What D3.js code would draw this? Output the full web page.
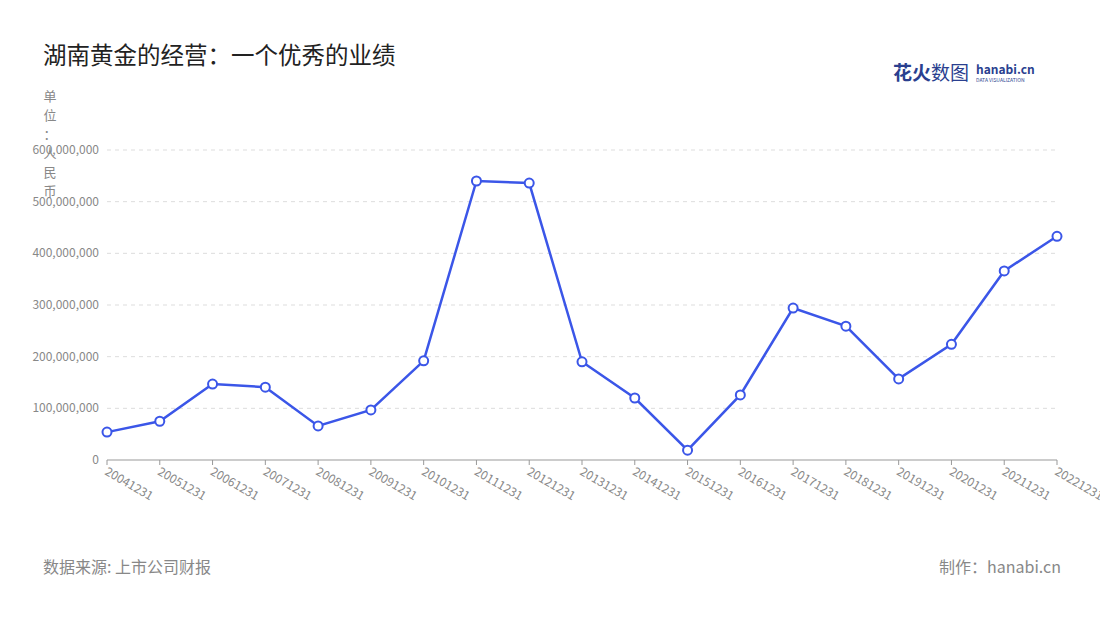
<!DOCTYPE html>
<html><head><meta charset="utf-8">
<script src="https://cdn.jsdelivr.net/npm/d3@7"></script>
<style>body{margin:0;background:#fff;font-family:"Noto Sans CJK SC","Noto Sans",sans-serif}</style>
</head><body><svg id="c" width="1100" height="620"></svg>
<script>
const categories=["20041231","20051231","20061231","20071231","20081231","20091231","20101231","20111231","20121231","20131231","20141231","20151231","20161231","20171231","20181231","20191231","20201231","20211231","20221231"];
const values=[54e6,75e6,147e6,141e6,66e6,97e6,192e6,540e6,536e6,190e6,120e6,19e6,126e6,294e6,259e6,157e6,224e6,366e6,433e6];
const yTicks=[0,1e8,2e8,3e8,4e8,5e8,6e8];
const svg=d3.select("#c");
const x=d3.scalePoint().domain(categories).range([107,1057]);
const y=d3.scaleLinear().domain([0,6e8]).range([460,150]);
const font='"Noto Sans CJK SC","Noto Sans",sans-serif';
svg.append("text").attr("x",43).attr("y",64).attr("font-size",23.5).attr("fill","#222").attr("font-family",font).text("湖南黄金的经营：一个优秀的业绩");
svg.append("g").selectAll("line").data(yTicks.slice(1)).join("line")
 .attr("x1",107).attr("x2",1057).attr("y1",d=>y(d)).attr("y2",d=>y(d))
 .attr("stroke","#ddd").attr("stroke-dasharray","4,4");
const fmt=d3.format(",");
svg.append("g").selectAll("text").data(yTicks).join("text")
 .attr("x",99).attr("y",d=>y(d)+4).attr("text-anchor","end").attr("font-size",12).attr("fill","#888").attr("font-family",font).text(d=>fmt(d));
const unit="单位：人民币".split("");
svg.append("g").selectAll("text").data(unit).join("text")
 .attr("x",50).attr("y",(d,i)=>101+i*19).attr("text-anchor","middle").attr("font-size",13).attr("fill","#888").attr("font-family",font).text(d=>d);
svg.append("line").attr("x1",107).attr("x2",1057).attr("y1",460).attr("y2",460).attr("stroke","#999");
svg.append("g").selectAll("line").data(categories).join("line")
 .attr("x1",d=>x(d)).attr("x2",d=>x(d)).attr("y1",460).attr("y2",465).attr("stroke","#999");
svg.append("g").selectAll("text").data(categories).join("text")
 .attr("transform",d=>`translate(${x(d)-3},${474}) rotate(30)`).attr("font-size",12).attr("fill","#888").attr("font-family",font).text(d=>d);
svg.append("path").datum(values).attr("fill","none").attr("stroke","#3b56e8").attr("stroke-width",2.5)
 .attr("d",d3.line().x((d,i)=>x(categories[i])).y(d=>y(d)));
svg.append("g").selectAll("circle").data(values).join("circle")
 .attr("cx",(d,i)=>x(categories[i])).attr("cy",d=>y(d)).attr("r",4.5).attr("fill","#fff").attr("stroke","#3b56e8").attr("stroke-width",2);
svg.append("text").attr("x",43).attr("y",573).attr("font-size",16).attr("fill","#888").attr("font-family",font).text("数据来源: 上市公司财报");
svg.append("text").attr("x",1061).attr("y",573).attr("text-anchor","end").attr("font-size",16).attr("fill","#888").attr("font-family",font).text("制作：hanabi.cn");
svg.append("text").attr("x",893).attr("y",80).attr("font-size",19).attr("font-weight","bold").attr("fill","#2a3f8f").attr("font-family",font).text("花火");
svg.append("text").attr("x",931).attr("y",80).attr("font-size",19).attr("fill","#2a3f8f").attr("font-family",font).text("数图");
svg.append("text").attr("x",976).attr("y",74).attr("font-size",12).attr("font-weight","bold").attr("fill","#2a3f8f").attr("font-family",font).text("hanabi.cn");
svg.append("text").attr("x",976).attr("y",82).attr("font-size",5).attr("fill","#2a3f8f").attr("font-family",font).text("DATA VISUALIZATION");
</script></body></html>
